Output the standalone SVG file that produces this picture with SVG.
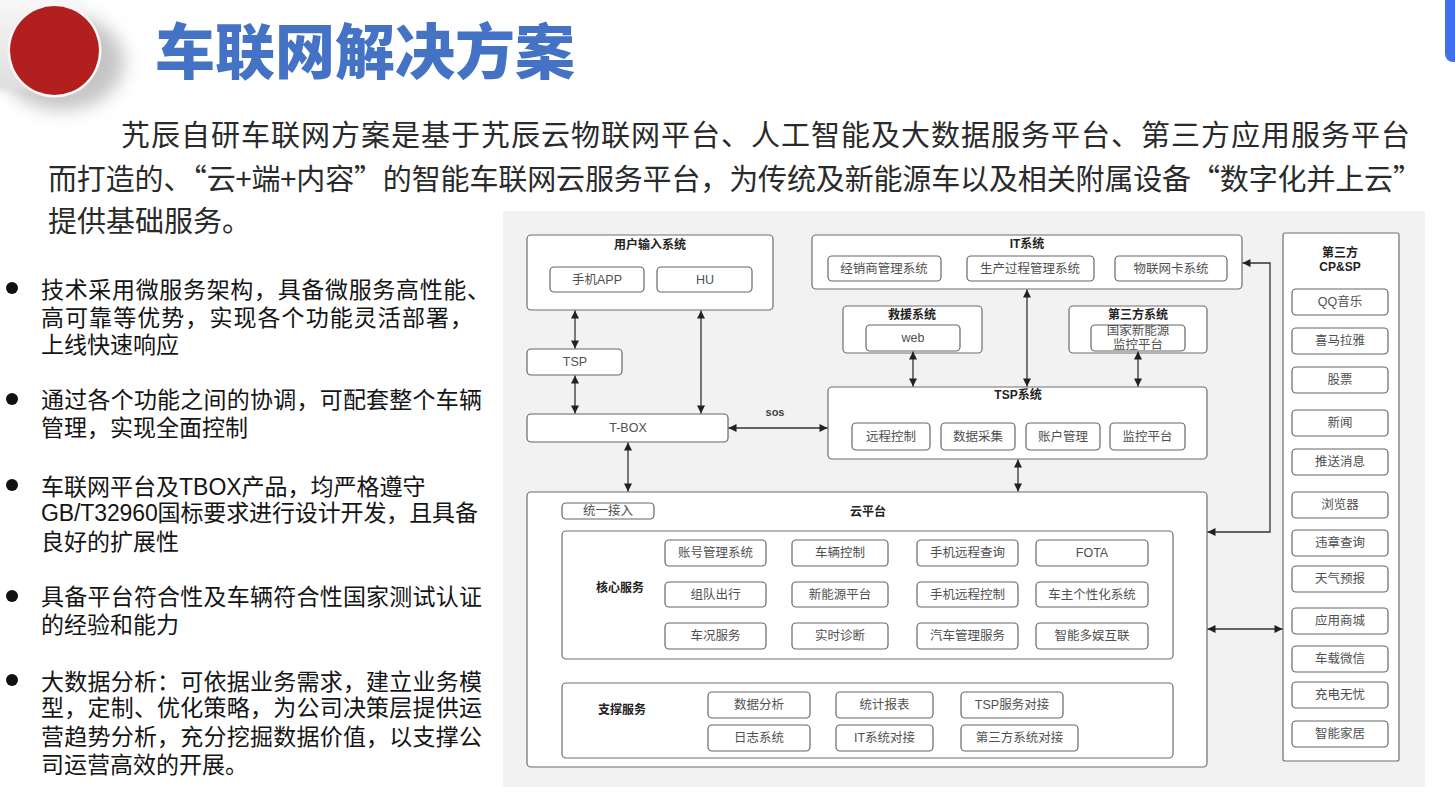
<svg xmlns="http://www.w3.org/2000/svg" width="1455" height="805" viewBox="0 0 1455 805">
<style>
.box{fill:#fff;stroke:#6e6e6e;stroke-width:1.2}
.item{fill:#fff;stroke:#666;stroke-width:1.2}
.t{font-family:"Liberation Sans","Noto Sans CJK SC",sans-serif;font-size:12.5px;fill:#505050;text-anchor:middle;dominant-baseline:central}
.h{font-weight:bold;fill:#222;font-size:12px}
.conn{stroke:#333;stroke-width:1.3;fill:none;marker-start:url(#a);marker-end:url(#a)}
.para{font-family:"Noto Sans CJK SC",sans-serif;font-size:29px;fill:#2a2a2a}
.bl{font-family:"Liberation Sans","Noto Sans CJK SC",sans-serif;font-size:23px;fill:#151515}
.dot{fill:#111}
</style>
<defs>
<marker id="a" viewBox="0 0 10 10" refX="10" refY="5" markerWidth="9" markerHeight="8" markerUnits="userSpaceOnUse" orient="auto-start-reverse">
<path d="M0,0 L10,5 L0,10 z" fill="#222"/>
</marker>
<filter id="blur" x="-50%" y="-50%" width="200%" height="200%">
<feGaussianBlur stdDeviation="9"/>
</filter>
<filter id="blur2" x="-50%" y="-50%" width="200%" height="200%">
<feGaussianBlur stdDeviation="3"/>
</filter>
<linearGradient id="tab" x1="0" y1="0" x2="0" y2="1">
<stop offset="0" stop-color="#fafafa"/>
<stop offset="1" stop-color="#dedede"/>
</linearGradient>
</defs>
<rect width="1455" height="805" fill="#fff"/>
<!-- header decoration -->
<g id="badge">
<ellipse cx="62" cy="62" rx="62" ry="48" fill="#c4c4c4" filter="url(#blur)"/>
<rect x="-10" y="-10" width="94" height="100" rx="6" fill="url(#tab)" filter="url(#blur2)"/>
<circle cx="54.5" cy="50.5" r="47" fill="#f7f7f7"/>
<circle cx="54.5" cy="50.5" r="44.5" fill="#b21f1f"/>
</g>
<path d="M1445,0 H1455 V62 H1453 A8,8 0 0 1 1445,54 Z" fill="#4270ec"/>
<text x="155" y="74" font-family="Noto Sans CJK SC, sans-serif" font-size="60" font-weight="900" fill="#4472c4">车联网解决方案</text>
<!-- paragraph -->
<text class="para" x="121" y="146" textLength="1289">艽辰自研车联网方案是基于艽辰云物联网平台、人工智能及大数据服务平台、第三方应用服务平台</text>
<text class="para" x="48" y="190" textLength="1374">而打造的、“云+端+内容”的智能车联网云服务平台，为传统及新能源车以及相关附属设备“数字化并上云”</text>
<text class="para" x="48" y="232">提供基础服务。</text>
<!-- bullets -->
<g id="bullets">
<circle class="dot" cx="12" cy="288" r="6"/>
<text class="bl" x="41" y="298" textLength="449">技术采用微服务架构，具备微服务高性能、</text>
<text class="bl" x="41" y="326" textLength="432">高可靠等优势，实现各个功能灵活部署，</text>
<text class="bl" x="41" y="353">上线快速响应</text>
<circle class="dot" cx="12" cy="399" r="6"/>
<text class="bl" x="41" y="408" textLength="441">通过各个功能之间的协调，可配套整个车辆</text>
<text class="bl" x="41" y="436">管理，实现全面控制</text>
<circle class="dot" cx="12" cy="485" r="6"/>
<text class="bl" x="41" y="495">车联网平台及TBOX产品，均严格遵守</text>
<text class="bl" x="41" y="521" textLength="437">GB/T32960国标要求进行设计开发，且具备</text>
<text class="bl" x="41" y="550">良好的扩展性</text>
<circle class="dot" cx="12" cy="596" r="6"/>
<text class="bl" x="41" y="605" textLength="441">具备平台符合性及车辆符合性国家测试认证</text>
<text class="bl" x="41" y="633">的经验和能力</text>
<circle class="dot" cx="12" cy="680" r="6"/>
<text class="bl" x="41" y="690" textLength="441">大数据分析：可依据业务需求，建立业务模</text>
<text class="bl" x="41" y="716" textLength="441">型，定制、优化策略，为公司决策层提供运</text>
<text class="bl" x="41" y="745" textLength="441">营趋势分析，充分挖掘数据价值，以支撑公</text>
<text class="bl" x="41" y="773">司运营高效的开展。</text>
</g>
<!-- diagram background -->
<rect x="503" y="211" width="922" height="576" fill="#f2f2f2"/>
<!-- nodes -->
<g id="user-input"><rect class="box" x="527" y="235" width="246" height="75" rx="4"/><text class="t h" x="650" y="245">用户输入系统</text></g>
<g id="app"><rect class="item" x="550" y="267" width="94" height="25" rx="4"/><text class="t" x="597" y="280">手机APP</text></g>
<g id="hu"><rect class="item" x="657" y="267" width="95" height="25" rx="4"/><text class="t" x="705" y="280">HU</text></g>
<g id="tsp"><rect class="item" x="527" y="349" width="95" height="26" rx="4"/><text class="t" x="575" y="362">TSP</text></g>
<g id="tbox"><rect class="item" x="527" y="414" width="201" height="28" rx="4"/><text class="t" x="628" y="428">T-BOX</text></g>

<g id="it"><rect class="box" x="812" y="235" width="430" height="54" rx="4"/><text class="t h" x="1027" y="244">IT系统</text></g>
<g id="dealer"><rect class="item" x="828" y="256" width="113" height="25" rx="4"/><text class="t" x="884" y="268.5">经销商管理系统</text></g>
<g id="production"><rect class="item" x="967" y="256" width="127" height="25" rx="4"/><text class="t" x="1030" y="268.5">生产过程管理系统</text></g>
<g id="iotcard"><rect class="item" x="1115" y="256" width="112" height="25" rx="4"/><text class="t" x="1171" y="268.5">物联网卡系统</text></g>

<g id="rescue"><rect class="box" x="843" y="306" width="139" height="47" rx="4"/><text class="t h" x="912" y="315">救援系统</text></g>
<g id="web"><rect class="item" x="866" y="325" width="94" height="26" rx="4"/><text class="t" x="913" y="338">web</text></g>
<g id="third"><rect class="box" x="1069" y="306" width="138" height="47" rx="4"/><text class="t h" x="1138" y="315">第三方系统</text></g>
<g id="nev-monitor"><rect class="item" x="1091" y="325" width="94" height="26" rx="4"/><text class="t" x="1138" y="331">国家新能源</text><text class="t" x="1138" y="345">监控平台</text></g>

<g id="tsp-system"><rect class="box" x="828" y="387" width="379" height="72" rx="4"/><text class="t h" x="1018" y="395">TSP系统</text></g>
<g id="remote"><rect class="item" x="852" y="423" width="78" height="27" rx="4"/><text class="t" x="891" y="436.5">远程控制</text></g>
<g id="collect"><rect class="item" x="941" y="423" width="74" height="27" rx="4"/><text class="t" x="978" y="436.5">数据采集</text></g>
<g id="account"><rect class="item" x="1026" y="423" width="74" height="27" rx="4"/><text class="t" x="1063" y="436.5">账户管理</text></g>
<g id="monitor"><rect class="item" x="1110" y="423" width="75" height="27" rx="4"/><text class="t" x="1147.5" y="436.5">监控平台</text></g>

<g id="cloud"><rect class="box" x="527" y="492" width="680" height="275" rx="4"/><text class="t h" x="868" y="512">云平台</text></g>
<g id="access"><rect class="item" x="562" y="503" width="92" height="16" rx="4"/><text class="t" x="608" y="511">统一接入</text></g>
<g id="core"><rect class="box" x="562" y="531" width="611" height="128" rx="4"/><text class="t h" x="620" y="588">核心服务</text></g>
<g id="c11"><rect class="item" x="665" y="540" width="101" height="26" rx="4"/><text class="t" x="715.5" y="553">账号管理系统</text></g>
<g id="c12"><rect class="item" x="792" y="540" width="96" height="26" rx="4"/><text class="t" x="840" y="553">车辆控制</text></g>
<g id="c13"><rect class="item" x="917" y="540" width="101" height="26" rx="4"/><text class="t" x="967.5" y="553">手机远程查询</text></g>
<g id="c14"><rect class="item" x="1036" y="540" width="112" height="26" rx="4"/><text class="t" x="1092" y="553">FOTA</text></g>
<g id="c21"><rect class="item" x="665" y="582" width="101" height="25" rx="4"/><text class="t" x="715.5" y="594.5">组队出行</text></g>
<g id="c22"><rect class="item" x="792" y="582" width="96" height="25" rx="4"/><text class="t" x="840" y="594.5">新能源平台</text></g>
<g id="c23"><rect class="item" x="917" y="582" width="101" height="25" rx="4"/><text class="t" x="967.5" y="594.5">手机远程控制</text></g>
<g id="c24"><rect class="item" x="1036" y="582" width="112" height="25" rx="4"/><text class="t" x="1092" y="594.5">车主个性化系统</text></g>
<g id="c31"><rect class="item" x="665" y="623" width="101" height="26" rx="4"/><text class="t" x="715.5" y="636">车况服务</text></g>
<g id="c32"><rect class="item" x="792" y="623" width="96" height="26" rx="4"/><text class="t" x="840" y="636">实时诊断</text></g>
<g id="c33"><rect class="item" x="917" y="623" width="101" height="26" rx="4"/><text class="t" x="967.5" y="636">汽车管理服务</text></g>
<g id="c34"><rect class="item" x="1036" y="623" width="112" height="26" rx="4"/><text class="t" x="1092" y="636">智能多娱互联</text></g>

<g id="support"><rect class="box" x="562" y="683" width="611" height="75" rx="4"/><text class="t h" x="622" y="710">支撑服务</text></g>
<g id="s11"><rect class="item" x="708" y="692" width="102" height="26" rx="4"/><text class="t" x="759" y="705">数据分析</text></g>
<g id="s12"><rect class="item" x="836" y="692" width="97" height="26" rx="4"/><text class="t" x="884.5" y="705">统计报表</text></g>
<g id="s13"><rect class="item" x="961" y="692" width="102" height="26" rx="4"/><text class="t" x="1012" y="705">TSP服务对接</text></g>
<g id="s21"><rect class="item" x="708" y="725" width="102" height="26" rx="4"/><text class="t" x="759" y="738">日志系统</text></g>
<g id="s22"><rect class="item" x="836" y="725" width="97" height="26" rx="4"/><text class="t" x="884.5" y="738">IT系统对接</text></g>
<g id="s23"><rect class="item" x="961" y="725" width="117" height="26" rx="4"/><text class="t" x="1019.5" y="738">第三方系统对接</text></g>

<g id="cpsp"><rect class="box" x="1283" y="233" width="116" height="528" rx="2"/><text class="t h" x="1340" y="253">第三方</text><text class="t h" x="1340" y="267">CP&amp;SP</text></g>
<g id="p1"><rect class="item" x="1292" y="289" width="96" height="26" rx="4"/><text class="t" x="1340" y="302">QQ音乐</text></g>
<g id="p2"><rect class="item" x="1292" y="328" width="96" height="26" rx="4"/><text class="t" x="1340" y="341">喜马拉雅</text></g>
<g id="p3"><rect class="item" x="1292" y="367" width="96" height="26" rx="4"/><text class="t" x="1340" y="380">股票</text></g>
<g id="p4"><rect class="item" x="1292" y="410" width="96" height="26" rx="4"/><text class="t" x="1340" y="423">新闻</text></g>
<g id="p5"><rect class="item" x="1292" y="449" width="96" height="26" rx="4"/><text class="t" x="1340" y="462">推送消息</text></g>
<g id="p6"><rect class="item" x="1292" y="492" width="96" height="26" rx="4"/><text class="t" x="1340" y="505">浏览器</text></g>
<g id="p7"><rect class="item" x="1292" y="530" width="96" height="26" rx="4"/><text class="t" x="1340" y="543">违章查询</text></g>
<g id="p8"><rect class="item" x="1292" y="566" width="96" height="26" rx="4"/><text class="t" x="1340" y="579">天气预报</text></g>
<g id="p9"><rect class="item" x="1292" y="608" width="96" height="26" rx="4"/><text class="t" x="1340" y="621">应用商城</text></g>
<g id="p10"><rect class="item" x="1292" y="646" width="96" height="26" rx="4"/><text class="t" x="1340" y="659">车载微信</text></g>
<g id="p11"><rect class="item" x="1292" y="682" width="96" height="26" rx="4"/><text class="t" x="1340" y="695">充电无忧</text></g>
<g id="p12"><rect class="item" x="1292" y="721" width="96" height="26" rx="4"/><text class="t" x="1340" y="734">智能家居</text></g>

<!-- connectors -->
<g id="connectors">
<line class="conn" x1="575" y1="310.5" x2="575" y2="348.5"/>
<line class="conn" x1="575" y1="375.5" x2="575" y2="413.5"/>
<line class="conn" x1="701" y1="310.5" x2="701" y2="413.5"/>
<line class="conn" x1="728.5" y1="428" x2="827.5" y2="428"/>
<line class="conn" x1="628" y1="442.5" x2="628" y2="491.5"/>
<line class="conn" x1="1027" y1="289.5" x2="1027" y2="386.5"/>
<line class="conn" x1="913" y1="351.5" x2="913" y2="386.5"/>
<line class="conn" x1="1138" y1="351.5" x2="1138" y2="386.5"/>
<line class="conn" x1="1018" y1="459.5" x2="1018" y2="491.5"/>
<polyline class="conn" points="1207.5,532 1270,532 1270,263 1242.5,263"/>
<line class="conn" x1="1207.5" y1="629" x2="1282.5" y2="629"/>
<text x="775" y="416" font-family="Liberation Sans, sans-serif" font-size="11" font-weight="bold" fill="#444" text-anchor="middle">sos</text>
</g>
</svg>
